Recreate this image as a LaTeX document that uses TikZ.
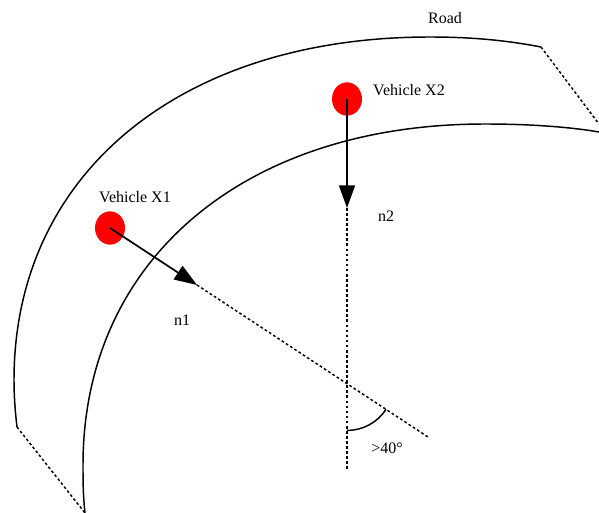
\documentclass[tikz,border=0pt]{standalone}
\usepackage{fontspec}
\setmainfont{Liberation Serif}
\usetikzlibrary{arrows.meta,shapes.geometric}
\begin{document}
\begin{tikzpicture}[x=0.75pt,y=-0.75pt,
    edge/.style={line width=1.1pt},
    guide/.style={line width=1.1pt, dash pattern=on 2pt off 1.8pt},
    vec/.style={line width=1.3pt, -{Triangle[length=17pt,width=12pt]}},
    car/.style={ellipse, fill=red, minimum width=22.5pt, minimum height=25pt, inner sep=0pt},
    lbl/.style={font=\fontsize{12pt}{14pt}\selectfont, inner sep=0pt}]
    \useasboundingbox (0,0) rectangle (599,513);

    % Road edges (outer and inner curve)
    \draw[edge] (17,427) .. controls (15,410) and (14,395) .. (14,380)
        .. controls (14,174) and (180,37) .. (430,37)
        .. controls (475,37) and (510,41) .. (541,47);
    \draw[edge] (85,513) .. controls (83,495) and (83,480) .. (83,465)
        .. controls (83,260) and (244,124) .. (485,124)
        .. controls (530,124) and (570,127) .. (599,132);

    % Road ends
    \draw[guide] (17,427) -- (85,513);
    \draw[guide] (541,47) -- (599,124);

    % Vehicles
    \node[car] (x1) at (110,228) {};
    \node[car] (x2) at (347,99) {};
    \node[lbl] (lx1) at (135,197) {Vehicle X1};
    \node[lbl] (lx2) at (409,90) {Vehicle X2};
    \node[lbl] (road) at (445,18) {Road};

    % Heading vectors and their extensions
    \coordinate (t1) at (197,285);
    \coordinate (e1) at (428,437);
    \coordinate (t2) at (347,208);
    \coordinate (e2) at (347,470);
    \draw[vec] (x1.center) -- (t1);
    \draw[vec] (x2.center) -- (t2);
    \draw[guide] (t1) -- (e1);
    \draw[guide] (t2) -- (e2);
    \node[lbl] (ln1) at (182,320) {n1};
    \node[lbl] (ln2) at (386,216) {n2};

    % Angle between the headings
    \coordinate (cross) at (intersection of x1.center--e1 and x2.center--e2);
    \draw[edge] (cross) ++(0pt,-35pt) arc[start angle=-90, end angle=-33.3, radius=35pt];
    \node[lbl] (ang) at (387,448) {>40°};
\end{tikzpicture}
\end{document}
